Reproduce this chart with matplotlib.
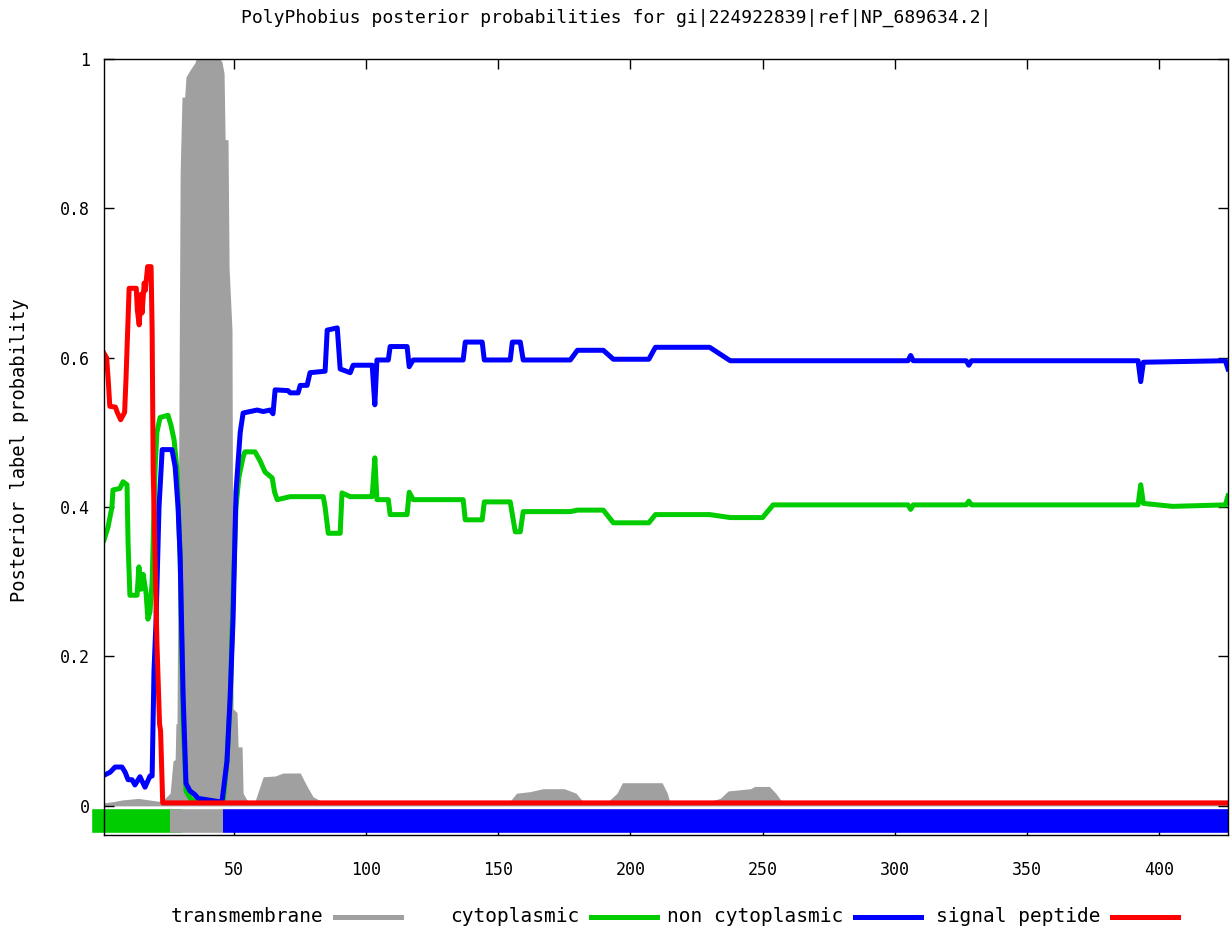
import matplotlib
matplotlib.use("Agg")
import matplotlib.pyplot as plt
from matplotlib.lines import Line2D

# posterior probabilities (residue position, probability)
tm_pos = [1, 5, 8, 14, 18, 22, 24, 26, 27.1, 27.9, 28.2, 28.6, 29.3, 29.8, 30.5, 31.5, 32, 33.5, 35.4, 35.8,
          44.9, 45.6, 46.4, 46.8, 47.9, 48.3, 49.4, 49.8, 51.3, 51.7, 53.2, 53.6, 55, 58, 59.3, 61.2, 65.7,
          68.7, 75.2, 77.8, 80.1, 83.9, 154, 157, 162, 167, 175, 179.5, 182.5, 191, 195, 197, 212, 214, 215,
          228, 234, 237, 245.5, 247, 252.6, 255, 257.7, 265, 274, 294, 295, 365, 366, 378, 379, 399, 400,
          414, 415, 426]
tm_prob = [0.004, 0.006, 0.008, 0.01, 0.008, 0.006, 0.01, 0.017, 0.06, 0.062, 0.11, 0.11, 0.5, 0.85, 0.949,
           0.949, 0.976, 0.985, 0.995, 1.0, 1.0, 0.996, 0.981, 0.892, 0.892, 0.72, 0.637, 0.13, 0.125, 0.079,
           0.079, 0.017, 0.008, 0.005, 0.019, 0.039, 0.04, 0.044, 0.044, 0.026, 0.012, 0.005, 0.004, 0.017,
           0.019, 0.023, 0.023, 0.017, 0.004, 0.004, 0.017, 0.031, 0.031, 0.017, 0.004, 0.004, 0.01, 0.02,
           0.023, 0.026, 0.026, 0.017, 0.004, 0.004, 0.006, 0.006, 0.002, 0.002, 0.006, 0.006, 0.002, 0.002,
           0.006, 0.006, 0.002, 0.002]

cyt_pos = [1, 2.5, 4, 4.4, 7, 8.2, 9.7, 10.1, 10.8, 13.5, 14.2, 15, 15.8, 16.9, 17.6, 18.4, 19.2, 20.3, 21,
           22.2, 25.2, 26.3, 27.5, 28.6, 29.8, 30.9, 32, 34, 46, 47.5, 48.7, 49.8, 50.9, 52, 53.6, 54.3, 58.1,
           60, 61.9, 64.6, 65.5, 66.5, 71.4, 83.9, 84.6, 85.8, 90.3, 91, 94.1, 102.4, 103.4, 104.2, 108.5,
           109.2, 115.6, 116.4, 117.9, 136.8, 137.6, 144, 144.8, 154.6, 156.5, 158.4, 159.5, 177.3, 180,
           189.8, 193.6, 207, 209.5, 230, 237.8, 250, 254, 305, 306, 307, 327, 328, 329, 392, 393, 394, 405,
           425, 426]
cyt_prob = [0.356, 0.373, 0.40, 0.423, 0.425, 0.434, 0.43, 0.352, 0.282, 0.282, 0.32, 0.29, 0.31, 0.285, 0.25,
            0.26, 0.30, 0.45, 0.50, 0.52, 0.523, 0.51, 0.49, 0.45, 0.33, 0.12, 0.02, 0.008, 0.005, 0.06, 0.14,
            0.28, 0.40, 0.44, 0.467, 0.474, 0.474, 0.462, 0.447, 0.439, 0.42, 0.41, 0.414, 0.414, 0.40, 0.365,
            0.365, 0.419, 0.414, 0.414, 0.466, 0.41, 0.41, 0.39, 0.39, 0.42, 0.41, 0.41, 0.383, 0.383, 0.407,
            0.407, 0.367, 0.367, 0.394, 0.394, 0.396, 0.396, 0.379, 0.379, 0.39, 0.39, 0.386, 0.386, 0.403,
            0.403, 0.397, 0.403, 0.403, 0.408, 0.403, 0.403, 0.43, 0.405, 0.401, 0.403, 0.415]

noncyt_pos = [1, 3.3, 5.2, 7.8, 9, 10.1, 11.6, 12.7, 14.6, 16.5, 18.4, 19.2, 19.9, 20.7, 21.8, 23, 26.7, 27.9,
              29, 29.8, 30.9, 32, 33.5, 35.4, 36.6, 45.6, 47.5, 48.7, 49.8, 50.9, 52.5, 53.6, 58.9, 61.2, 63.8,
              64.9, 65.7, 70.6, 71.4, 74.4, 75.2, 77.8, 78.9, 84.6, 85.4, 89.2, 90.3, 94.1, 95.2, 102.4, 103.4,
              104.2, 108.5, 109.2, 115.6, 116.4, 117.9, 136.8, 137.6, 144, 144.8, 154.6, 155.4, 158.4, 159.5,
              177.3, 180, 189.8, 193.6, 207, 209.5, 230, 237.8, 305, 306, 307, 327, 328, 329, 392, 393, 394,
              425, 426]
noncyt_prob = [0.041, 0.045, 0.052, 0.052, 0.045, 0.035, 0.035, 0.028, 0.039, 0.025, 0.04, 0.04, 0.18, 0.25,
               0.40, 0.477, 0.477, 0.454, 0.40, 0.333, 0.15, 0.03, 0.02, 0.015, 0.01, 0.005, 0.06, 0.146, 0.25,
               0.42, 0.50, 0.526, 0.530, 0.528, 0.53, 0.525, 0.557, 0.556, 0.553, 0.553, 0.563, 0.563, 0.58,
               0.582, 0.637, 0.64, 0.585, 0.58, 0.59, 0.59, 0.537, 0.597, 0.597, 0.615, 0.615, 0.588, 0.597,
               0.597, 0.621, 0.621, 0.597, 0.597, 0.621, 0.621, 0.597, 0.597, 0.61, 0.61, 0.598, 0.598, 0.614,
               0.614, 0.596, 0.596, 0.603, 0.596, 0.596, 0.59, 0.596, 0.596, 0.568, 0.594, 0.596, 0.585]

sp_pos = [1, 2, 2.6, 3.2, 5.3, 6, 7.3, 8.8, 9.3, 10.5, 13.2, 13.6, 14.3, 15, 15.4, 16.2, 16.6, 17.5, 18.8,
          19.2, 19.6, 21, 22, 22.4, 23.2, 426]
sp_prob = [0.606, 0.60, 0.57, 0.535, 0.534, 0.527, 0.517, 0.527, 0.57, 0.693, 0.693, 0.664, 0.644, 0.685, 0.66,
           0.70, 0.69, 0.722, 0.722, 0.637, 0.45, 0.22, 0.11, 0.10, 0.004, 0.004]

# predicted topology along the sequence
topo_start = [1, 26, 46]
topo_end = [26, 46, 426]
topo_label = ["cytoplasmic", "transmembrane", "non cytoplasmic"]

colors = {"transmembrane": "#a0a0a0", "cytoplasmic": "#00cc00",
          "non cytoplasmic": "#0000ff", "signal peptide": "#ff0000"}
font = ["DejaVu Sans Mono"]

fig = plt.figure(figsize=(12.31, 9.34), dpi=100)
ax = fig.add_axes([104 / 1231, 1 - 835 / 934, 1124 / 1231, 776 / 934])

ax.fill_between(tm_pos, 0, tm_prob, color=colors["transmembrane"], linewidth=0, zorder=1)
ax.plot(cyt_pos, cyt_prob, color=colors["cytoplasmic"], lw=3.6, zorder=2)
ax.plot(noncyt_pos, noncyt_prob, color=colors["non cytoplasmic"], lw=3.6, zorder=3)
ax.plot(sp_pos, sp_prob, color=colors["signal peptide"], lw=3.6, zorder=4)

# topology band under the curves
for s, e, lab in zip(topo_start, topo_end, topo_label):
    first = s == topo_start[0]
    ax.plot([s, e], [-0.02, -0.02], color=colors[lab], lw=17,
            solid_capstyle="projecting" if first else "butt",
            clip_on=not first, zorder=2 if first else 3)

ax.set_xlim(1, 426)
ax.set_ylim(-0.039, 1)
ax.set_xticks([50, 100, 150, 200, 250, 300, 350, 400])
ax.set_yticks([0, 0.2, 0.4, 0.6, 0.8, 1])
ax.set_yticklabels(["0", "0.2", "0.4", "0.6", "0.8", "1"])
ax.tick_params(direction="in", top=True, right=True, length=7, width=1, labelsize=12)
ax.tick_params(axis="x", pad=19)
ax.tick_params(axis="y", pad=10)
for lab in ax.get_xticklabels() + ax.get_yticklabels():
    lab.set_family(font)
for sp in ax.spines.values():
    sp.set_linewidth(1)
    sp.set_zorder(5)

fig.text(616 / 1231, 1 - 18 / 934,
         "PolyPhobius posterior probabilities for gi|224922839|ref|NP_689634.2|",
         ha="center", va="center", fontsize=13, family=font)
fig.text(20 / 1231, 1 - 450 / 934, "Posterior label probability", rotation=90,
         ha="center", va="center", fontsize=13.5, family=font)

# legend along the bottom, gnuplot style
legend_names = ["transmembrane", "cytoplasmic", "non cytoplasmic", "signal peptide"]
sample_x = [335, 591, 855, 1112]
ly = 1 - 917 / 934
for name, sx in zip(legend_names, sample_x):
    fig.text((sx - 12) / 1231, ly, name, ha="right", va="center", fontsize=14, family=font)
    fig.add_artist(Line2D([sx / 1231, (sx + 66) / 1231], [ly, ly], color=colors[name], lw=3.6,
                          transform=fig.transFigure))

fig.savefig("out.png", dpi=100)
